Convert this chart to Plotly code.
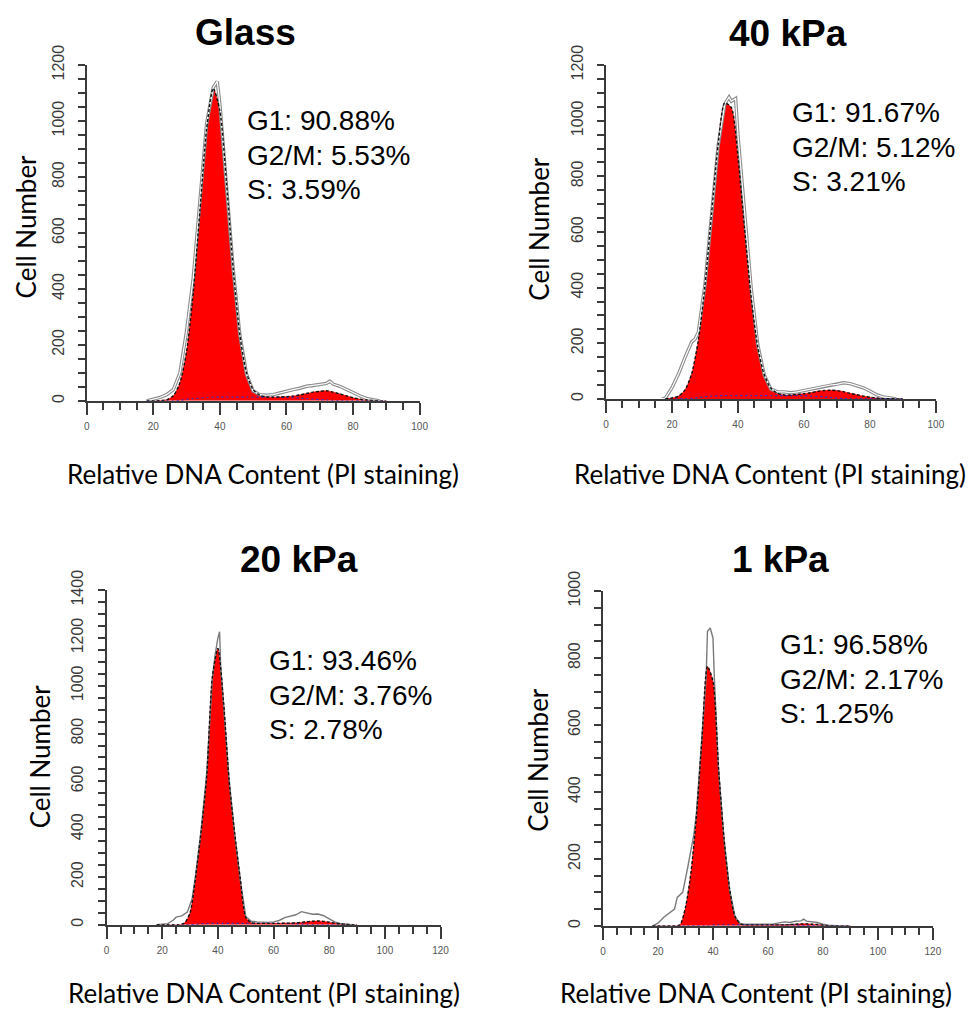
import numpy as np
import plotly.graph_objects as go

W, H = 974, 1012

# ---------------------------------------------------------------- data
panel_titles = ["Glass", "40 kPa", "20 kPa", "1 kPa"]
g1_pct = ["90.88%", "91.67%", "93.46%", "96.58%"]
g2m_pct = ["5.53%", "5.12%", "3.76%", "2.17%"]
s_pct = ["3.59%", "3.21%", "2.78%", "1.25%"]

x_max = [100, 100, 120, 120]
y_max = [1200, 1200, 1400, 1000]

# channels of the model components (18, 20, ..., 90)
fit_channels = list(range(18, 92, 2))

# G1 component of the cell-cycle model
g1_glass = [0, 0, 1, 4, 18, 63, 172, 378, 671, 959, 1104, 1023, 764, 459, 223, 87, 27, 7, 1,
            0, 0, 0, 0, 0, 0, 0, 0, 0, 0, 0, 0, 0, 0, 0, 0, 0, 0]
g1_40 = [0, 3, 10, 33, 89, 206, 399, 654, 903, 1052, 1035, 858, 600, 354, 176, 74, 26, 8, 2,
         0, 0, 0, 0, 0, 0, 0, 0, 0, 0, 0, 0, 0, 0, 0, 0, 0, 0]
g1_20 = [0, 0, 0, 0, 0, 8, 50, 200, 390, 620, 1030, 1150, 930, 600, 380, 190, 25, 3,
         0, 0, 0, 0, 0, 0, 0, 0, 0, 0, 0, 0, 0, 0, 0, 0, 0, 0, 0]
g1_1 = [0, 0, 0, 0, 0, 3, 55, 160, 330, 560, 775, 728, 470, 260, 110, 25, 3,
        0, 0, 0, 0, 0, 0, 0, 0, 0, 0, 0, 0, 0, 0, 0, 0, 0, 0, 0, 0]

# S-phase component
s_glass = [0, 0, 0, 0, 0, 2, 5, 8, 10, 12, 13, 13, 13, 13, 13, 13, 13, 13, 13, 13, 13,
           12, 11, 10, 8, 6, 4, 3, 1, 0, 0, 0, 0, 0, 0, 0, 0]
s_40 = [0, 0, 0, 0, 2, 5, 8, 10, 11, 12, 12, 12, 12, 12, 12, 12, 12, 12, 12, 12, 12,
        11, 10, 9, 7, 5, 3, 1, 0, 0, 0, 0, 0, 0, 0, 0, 0]
s_20 = [0, 0, 0, 0, 0, 0, 0, 2, 4, 5, 6, 6, 6, 6, 6, 6, 6, 6, 6, 6, 6, 6, 6, 6,
        5, 4, 3, 2, 1, 0, 0, 0, 0, 0, 0, 0, 0]
s_1 = [0, 0, 0, 0, 0, 0, 0, 0, 0, 0, 0, 2, 3, 3, 3, 3, 3, 3, 3, 3, 3, 3, 3, 3, 3, 3,
       2, 1, 1, 0, 0, 0, 0, 0, 0, 0, 0]

# G2/M component
g2_glass = [0, 0, 0, 0, 0, 0, 0, 0, 0, 0, 0, 0, 0, 0, 0, 0, 0, 0, 0, 0,
            1, 3, 6, 11, 18, 25, 30, 33, 30, 25, 18, 11, 6, 3, 1, 0, 0]
g2_40 = [0, 0, 0, 0, 0, 0, 0, 0, 0, 0, 0, 0, 0, 0, 0, 0, 0, 0, 0,
         2, 4, 8, 12, 18, 23, 26, 27, 25, 20, 15, 10, 6, 3, 1, 1, 0, 0]
g2_20 = [0, 0, 0, 0, 0, 0, 0, 0, 0, 0, 0, 0, 0, 0, 0, 0, 0, 0, 0, 0, 0, 0, 0,
         1, 2, 4, 7, 11, 14, 16, 14, 11, 7, 4, 2, 0, 0]
g2_1 = [0, 0, 0, 0, 0, 0, 0, 0, 0, 0, 0, 0, 0, 0, 0, 0, 0, 0, 0, 0, 0, 0, 0, 0, 0,
        1, 3, 5, 5, 5, 4, 2, 0, 0, 0, 0, 0]

# measured DNA-content histograms
raw_x_glass = [18, 20, 22, 24, 26, 28, 30, 32, 34, 36, 38, 39.2, 40, 42, 44, 46, 48, 50, 52, 54,
               56, 58, 60, 62, 64, 66, 68, 70, 72, 73, 74, 76, 78, 80, 82, 84, 86, 88]
raw_y_glass = [0, 5, 12, 22, 40, 100, 250, 440, 720, 990, 1120, 1142, 1060, 780, 470, 235, 95, 35, 22, 20,
               22, 28, 35, 40, 45, 52, 55, 58, 62, 70, 60, 52, 42, 30, 18, 9, 4, 0]
raw_x_40 = [17, 18, 20, 22, 24, 26, 27, 28, 30, 32, 34, 36, 37.3, 38, 39.3, 40, 42, 44, 46, 48,
            50, 52, 54, 56, 58, 60, 62, 64, 66, 68, 70, 72, 74, 76, 78, 80, 82, 84, 86, 88]
raw_y_40 = [0, 3, 40, 90, 150, 205, 215, 240, 410, 660, 910, 1060, 1085, 1070, 1080, 950, 680, 400, 195, 85,
            35, 25, 25, 22, 25, 30, 35, 40, 45, 50, 52, 58, 55, 48, 40, 28, 15, 7, 3, 0]
raw_x_20 = [18, 20, 22, 24, 25, 27, 29, 30.7, 32, 34, 36, 38, 39, 40, 40.6, 41, 42, 44, 46, 48,
            50, 52, 54, 56, 58, 60, 62, 64, 66, 68, 70, 72, 74, 76, 78, 80, 82, 84, 86, 88]
raw_y_20 = [0, 3, 5, 20, 32, 37, 53, 108, 210, 400, 640, 1030, 1130, 1200, 1226, 1080, 930, 610, 380, 190,
            35, 15, 12, 10, 10, 12, 18, 30, 35, 42, 55, 48, 44, 45, 38, 25, 12, 5, 2, 0]
raw_x_1 = [18, 20, 22, 24, 26, 27, 29, 30.7, 32, 33, 34, 36, 37.5, 38, 39, 40, 40.5, 42, 44, 46,
           48, 50, 54, 58, 62, 64, 66, 68, 70, 72, 73, 74, 76, 78, 80, 82, 86]
raw_y_1 = [0, 8, 25, 38, 50, 85, 100, 170, 225, 270, 340, 560, 740, 880, 890, 860, 740, 470, 260, 110,
           28, 5, 4, 5, 6, 10, 12, 10, 14, 15, 20, 14, 12, 10, 5, 2, 0]

g1_all = [g1_glass, g1_40, g1_20, g1_1]
s_all = [s_glass, s_40, s_20, s_1]
g2_all = [g2_glass, g2_40, g2_20, g2_1]
raw_x_all = [raw_x_glass, raw_x_40, raw_x_20, raw_x_1]
raw_y_all = [raw_y_glass, raw_y_40, raw_y_20, raw_y_1]

# ---------------------------------------------------------------- layout geometry (pixels)
# plot-area corners: left, right, bottom, top
boxes = [(84.8, 421.8, 389.3, 46.1), (610.5, 944.5, 387.3, 46.1),
         (104.9, 443.0, 924.9, 582.8), (607.5, 941.5, 926.0, 583.8)]
title_pos = [(245.2, 13), (795.2, 14), (299.7, 551.2), (787.1, 551.2)]
stats_pos = [(245.2, 103.2), (797.2, 95.0), (267.4, 655.1), (785.1, 638.8)]
stats_step = 35.1
ylab_pos = [(23.2, 211.1), (542.9, 213.1), (37.3, 752.9), (541.9, 755.9)]
# x-axis titles: (centre x, centre y); None means the line sits on the lower page edge
xlab_pos = [(263.4, 463.6), (777.0, 463.6), (264.4, None), (761.9, None)]
double_outline = [True, True, False, False]


def px(x):
    return x / W


def py(y):
    return 1 - y / H


AX = "#3a3a3a"
RED = "#ff0000"
ARIAL = "Arial, Liberation Sans, sans-serif"
LABEL_FONT = "Lato, Open Sans, sans-serif"

fig = go.Figure()
annotations = []

for i in range(4):
    sfx = "" if i == 0 else str(i + 1)
    xa, ya = "x" + sfx, "y" + sfx
    g1 = np.array(g1_all[i], dtype=float)
    s = np.array(s_all[i], dtype=float)
    g2 = np.array(g2_all[i], dtype=float)
    total = g1 + s + g2

    # red model area (G1 + S + G2/M)
    fig.add_trace(go.Scatter(
        x=fit_channels, y=total, mode="lines",
        line=dict(color=RED, width=0.5, shape="spline", smoothing=0.7),
        fill="tozeroy", fillcolor=RED, xaxis=xa, yaxis=ya, hoverinfo="skip"))

    # measured histogram outline
    if double_outline[i]:
        fig.add_trace(go.Scatter(
            x=raw_x_all[i], y=raw_y_all[i], mode="lines",
            line=dict(color="#8c8c8c", width=3.4), xaxis=xa, yaxis=ya, hoverinfo="skip"))
        fig.add_trace(go.Scatter(
            x=raw_x_all[i], y=raw_y_all[i], mode="lines",
            line=dict(color="#ffffff", width=1.2), xaxis=xa, yaxis=ya, hoverinfo="skip"))
    else:
        fig.add_trace(go.Scatter(
            x=raw_x_all[i], y=raw_y_all[i], mode="lines",
            line=dict(color="#7a7a7a", width=1.4), xaxis=xa, yaxis=ya, hoverinfo="skip"))

    # S-phase trace
    fig.add_trace(go.Scatter(
        x=fit_channels, y=s, mode="lines",
        line=dict(color="#3030c8", width=1.2, dash="2px,3px", shape="spline", smoothing=0.7),
        xaxis=xa, yaxis=ya, hoverinfo="skip"))

    # model fit outline
    fig.add_trace(go.Scatter(
        x=fit_channels, y=total, mode="lines",
        line=dict(color="#111111", width=1.4, dash="3px,2px", shape="spline", smoothing=0.7),
        xaxis=xa, yaxis=ya, hoverinfo="skip"))

    left, right, bottom, top = boxes[i]
    common = dict(showline=True, linecolor=AX, linewidth=1.5, ticks="outside",
                  tickcolor=AX, tickwidth=1.5, showgrid=False, zeroline=False)
    fig.update_layout(**{
        "xaxis" + sfx: dict(
            common, domain=[px(left), px(right)], range=[0, x_max[i]], tick0=0, dtick=20,
            ticklen=12, anchor=ya, ticklabelstandoff=3,
            tickfont=dict(family=ARIAL, size=10, color="#555555"),
            minor=dict(dtick=5, ticklen=7, tickwidth=1.5, tickcolor=AX, ticks="outside",
                       showgrid=False)),
        "yaxis" + sfx: dict(
            common, domain=[py(bottom), py(top)], range=[0, y_max[i]], tick0=0, dtick=200,
            ticklen=7, anchor=xa, tickangle=-90, ticklabelstandoff=8,
            tickfont=dict(family=ARIAL, size=16, color="#3a3a3a"),
            minor=dict(dtick=50, ticklen=7, tickwidth=1.5, tickcolor=AX, ticks="outside",
                       showgrid=False)),
    })

    tx, ty = title_pos[i]
    annotations.append(dict(
        x=px(tx), y=py(ty), xref="paper", yref="paper", xanchor="center", yanchor="middle",
        text="<b>%s</b>" % panel_titles[i], showarrow=False,
        font=dict(family=ARIAL, size=37, color="#000000")))

    sx, sy = stats_pos[i]
    for k, line in enumerate(["G1: " + g1_pct[i], "G2/M: " + g2m_pct[i], "S: " + s_pct[i]]):
        annotations.append(dict(
            x=px(sx), y=py(sy + stats_step * k), xref="paper", yref="paper",
            xanchor="left", yanchor="middle", text=line, showarrow=False,
            font=dict(family=ARIAL, size=28, color="#000000")))

    lx, ly = ylab_pos[i]
    annotations.append(dict(
        x=px(lx), y=py(ly), xref="paper", yref="paper", xanchor="center", yanchor="middle",
        text="Cell Number", textangle=-90, showarrow=False,
        font=dict(family=LABEL_FONT, size=26, color="#000000")))

    bx, by = xlab_pos[i]
    if by is None:
        ypos, yanc = 0.0, "bottom"
    else:
        ypos, yanc = py(by), "middle"
    annotations.append(dict(
        x=px(bx), y=ypos, xref="paper", yref="paper", xanchor="center", yanchor=yanc,
        text="Relative DNA Content (PI staining)", showarrow=False, borderpad=0,
        font=dict(family=LABEL_FONT, size=26, color="#000000")))

fig.update_layout(
    width=W, height=H, margin=dict(l=0, r=0, t=0, b=0),
    paper_bgcolor="#ffffff", plot_bgcolor="#ffffff", showlegend=False,
    annotations=annotations)

fig.write_html("out.html")
